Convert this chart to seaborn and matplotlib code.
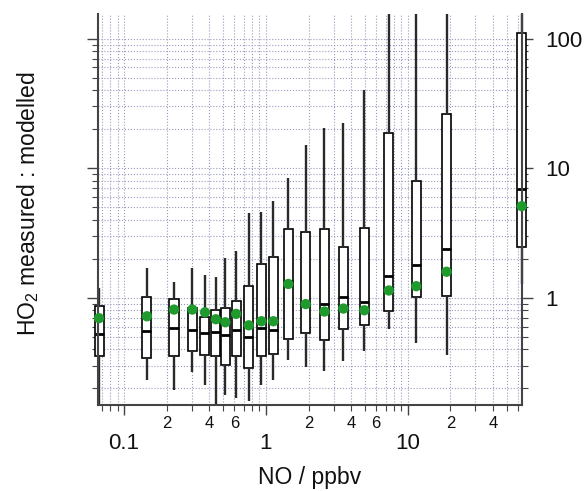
import numpy as np
import pandas as pd
import matplotlib
matplotlib.use('Agg')
import matplotlib.pyplot as plt
import seaborn as sns
from matplotlib.ticker import FixedLocator, LogLocator, FuncFormatter, NullFormatter
from matplotlib.patches import Rectangle

sns.set_theme(style='ticks')
plt.rcParams['font.family'] = ['Liberation Sans', 'DejaVu Sans']
plt.rcParams['mathtext.fontset'] = 'custom'
plt.rcParams['mathtext.rm'] = 'Liberation Sans'
plt.rcParams['text.color'] = '#111111'
plt.rcParams['axes.labelcolor'] = '#111111'
plt.rcParams['xtick.labelcolor'] = '#111111'
plt.rcParams['ytick.labelcolor'] = '#111111'

# NO bin centres (ppbv)
no_ppbv = [0.0666, 0.145, 0.225, 0.303, 0.372, 0.444, 0.518, 0.617, 0.758, 0.930,
           1.13, 1.44, 1.91, 2.59, 3.52, 4.95, 7.36, 11.5, 18.8, 63.7]

# HO2 measured : modelled, box statistics per bin
whisker_low = [0.12, 0.234, 0.196, 0.266, 0.214, 0.14, 0.179, 0.169, 0.159, 0.214,
               0.234, 0.334, 0.293, 0.271, 0.324, 0.387, 0.576, 0.449, 0.365, 1.27]
q1 = [0.358, 0.344, 0.354, 0.387, 0.360, 0.358, 0.302, 0.354, 0.288, 0.358,
      0.371, 0.485, 0.537, 0.477, 0.579, 0.622, 0.798, 1.02, 1.04, 2.46]
median = [0.525, 0.559, 0.587, 0.561, 0.537, 0.549, 0.518, 0.569, 0.500, 0.582,
          0.569, 1.34, 0.91, 0.899, 1.01, 0.931, 1.47, 1.79, 2.39, 6.86]
q3 = [0.861, 1.02, 0.982, 0.831, 0.708, 0.812, 0.837, 0.953, 1.23, 1.81,
      2.07, 3.41, 3.23, 3.37, 2.46, 3.47, 18.6, 8.01, 26.0, 110]
whisker_high = [1.19, 1.70, 1.33, 1.70, 1.49, 1.46, 2.04, 2.29, 4.53, 4.58,
                5.57, 8.34, 15.0, 20.5, 22.2, 40.1, 200, 200, 200, 200]
mean_ratio = [0.697, 0.721, 0.812, 0.812, 0.774, 0.684, 0.648, 0.752, 0.614, 0.660,
              0.660, 1.28, 0.895, 0.784, 0.827, 0.802, 1.14, 1.23, 1.59, 5.10]

# five values per bin so that quartiles / whisker ends come out exactly
rows = []
for i, x in enumerate(no_ppbv):
    for v in (whisker_low[i], q1[i], median[i], q3[i], whisker_high[i]):
        rows.append({'no': x, 'ratio': v})
box_df = pd.DataFrame(rows)
mean_df = pd.DataFrame({'no': no_ppbv, 'ratio': mean_ratio})

fig = plt.figure(figsize=(5.88, 4.91), dpi=100)
ax = fig.add_axes([98 / 588, 1 - 405 / 491, (522 - 98) / 588, (405 - 14) / 491])
ax.set_xscale('log')
ax.set_yscale('log')

sns.boxplot(data=box_df, x='no', y='ratio', native_scale=True, orient='x',
            log_scale=(True, True), whis=(0, 100), width=0.95, gap=0,
            color='white', linecolor='black', linewidth=1.2, showcaps=False,
            fliersize=0, whiskerprops=dict(color='#2a2a2a', linewidth=1.7),
            medianprops=dict(color='black', linewidth=2.0), ax=ax)

# let the boxes on the outer bins spill over the side axes, as in the original
clip_rect = Rectangle((-0.05, 0), 1.1, 1, transform=ax.transAxes)
for art in list(ax.lines) + list(ax.patches):
    art.set_clip_path(clip_rect)

sns.scatterplot(data=mean_df, x='no', y='ratio', color='#1f9a2c', s=55,
                edgecolor='none', zorder=5, clip_on=False, legend=False, ax=ax)

ax.set_xlim(0.0655, 64)
ax.set_ylim(0.149, 155)

# ticks
def minor_fmt(v, pos):
    lead = int(round(v / 10 ** np.floor(np.log10(v))))
    if v > 50:
        return ''
    return str(lead) if lead in (2, 4, 6) else ''

ax.xaxis.set_major_locator(FixedLocator([0.1, 1, 10]))
ax.xaxis.set_minor_locator(LogLocator(base=10, subs=np.arange(2, 10), numticks=20))
ax.xaxis.set_major_formatter(FuncFormatter(lambda v, p: '%g' % v))
ax.xaxis.set_minor_formatter(FuncFormatter(minor_fmt))
ax.yaxis.set_major_locator(FixedLocator([1, 10, 100]))
ax.yaxis.set_minor_locator(LogLocator(base=10, subs=np.arange(2, 10), numticks=20))
ax.yaxis.set_major_formatter(FuncFormatter(lambda v, p: '%g' % v))
ax.yaxis.set_minor_formatter(NullFormatter())

ax.tick_params(axis='both', which='both', direction='out', color='#444444')
ax.tick_params(axis='x', which='major', length=7, width=1.0, labelsize=16, pad=13)
ax.tick_params(axis='x', which='minor', length=4, width=0.8, labelsize=12, pad=4)
ax.tick_params(axis='y', which='both', left=True, right=True, labelleft=False, labelright=True)
ax.tick_params(axis='y', which='major', length=8, width=1.0, labelsize=16, pad=9)
ax.tick_params(axis='y', which='minor', length=4, width=0.8)

ax.grid(True, which='both', axis='both', linestyle=':', color='#9a9ac0', linewidth=0.8)
ax.set_axisbelow(True)

ax.spines['top'].set_visible(False)
for side in ('left', 'right', 'bottom'):
    ax.spines[side].set_color('#444444')
    ax.spines[side].set_linewidth(1.5)

ax.set_xlabel('NO / ppbv', fontsize=16.5)
ax.set_ylabel('HO$_2$ measured : modelled', fontsize=16.5)
ax.xaxis.set_label_coords(0.5, -0.155)
ax.yaxis.set_label_coords(-0.135, 0.515)

fig.savefig('out.png', dpi=100)
